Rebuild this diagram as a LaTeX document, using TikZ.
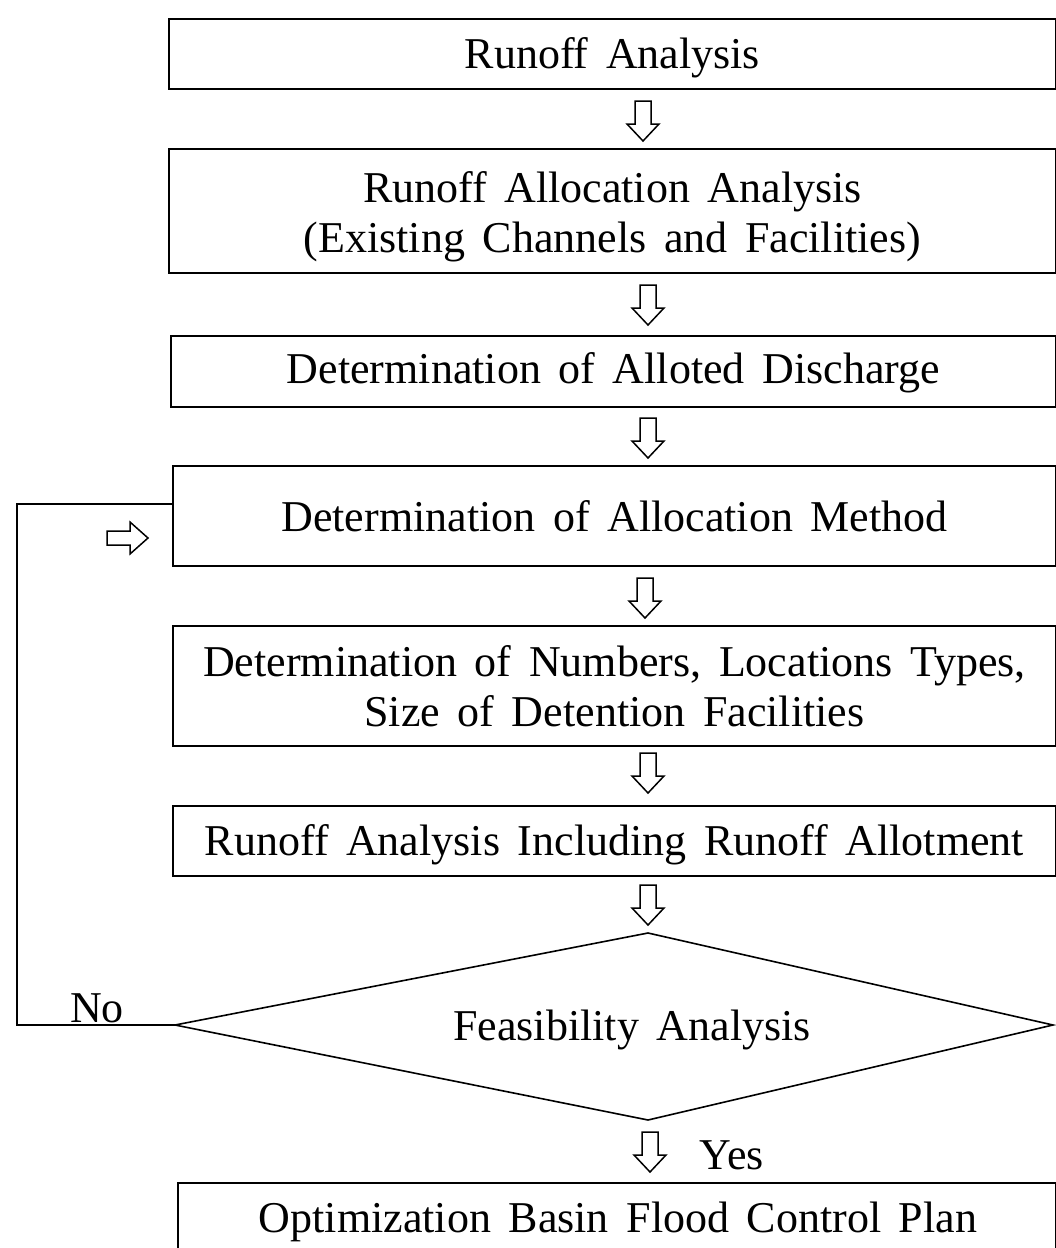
\documentclass[tikz,border=0pt]{standalone}
\usepackage{fontspec}
\setmainfont{Liberation Serif}[WordSpace=1.6]
\usetikzlibrary{shapes.geometric}
\begin{document}
\begin{tikzpicture}[x=1pt,y=-1pt,
  box/.style={draw,line width=1.8pt,inner sep=0pt,align=center,
    font=\fontsize{44}{50}\selectfont,anchor=north west},
  txt/.style={inner sep=0pt,font=\fontsize{44}{50}\selectfont},
  conn/.style={draw,line width=1.6pt},
  downarr/.pic={\draw[line width=1.5pt,line join=miter]
    (-8,0) -- (8,0) -- (8,23) -- (16,23) -- (0,40) -- (-16,23) -- (-8,23) -- cycle;},
  rightarr/.pic={\draw[line width=1.5pt,line join=miter]
    (0,-7) -- (23,-7) -- (23,-16) -- (41,0) -- (23,16) -- (23,7) -- (0,7) -- cycle;}
]
\useasboundingbox (0,0) rectangle (1056,1248);
\clip (0,0) rectangle (1056,1248);

\node[box,minimum width=887pt,minimum height=70pt] (b1) at (168,18)
  {\rule{0pt}{38pt}Runoff Analysis};
\node[box,minimum width=887pt,minimum height=124pt] (b2) at (168,148)
  {\rule{0pt}{43pt}Runoff Allocation Analysis\\(Existing Channels and Facilities)};
\node[box,minimum width=885pt,minimum height=71pt] (b3) at (170,335)
  {\rule{0pt}{34pt}Determination of Alloted Discharge};
\node[box,minimum width=883pt,minimum height=100pt] (b4) at (172,465)
  {Determination of Allocation Method};
\node[box,minimum width=883pt,minimum height=120pt] (b5) at (172,625)
  {Determination of Numbers, Locations Types,\\Size of Detention Facilities};
\node[box,minimum width=883pt,minimum height=70pt] (b6) at (172,805)
  {\rule{0pt}{38pt}Runoff Analysis Including Runoff Allotment};

\coordinate (dt) at (648,933);
\coordinate (dr) at (1053,1025);
\coordinate (db) at (648,1120);
\coordinate (dl) at (175,1025);
\draw[conn,line join=miter] (dt) -- (dr) -- (db) -- (dl) -- cycle;
\node[txt] (fet) at (632,1030) {Feasibility Analysis};

\node[box,minimum width=878pt,minimum height=100pt] (b7) at (177,1182) {};
\node[txt] (b7t) at (618,1222) {Optimization Basin Flood Control Plan};

\pic at (643,101) {downarr};
\pic at (648,285) {downarr};
\pic at (648,418) {downarr};
\pic at (645,578) {downarr};
\pic at (648,753) {downarr};
\pic at (648,885) {downarr};
\pic at (650,1132) {downarr};
\pic at (107,538) {rightarr};

\coordinate (lc1) at (17,1025);
\coordinate (lc2) at (17,504);
\coordinate (entry) at (172,504);
\draw[conn] (dl) -- (lc1) -- (lc2) -- (entry);

\node[txt] (no) at (97,1008) {No};
\node[txt] (yes) at (732,1155) {Yes};
\end{tikzpicture}
\end{document}
